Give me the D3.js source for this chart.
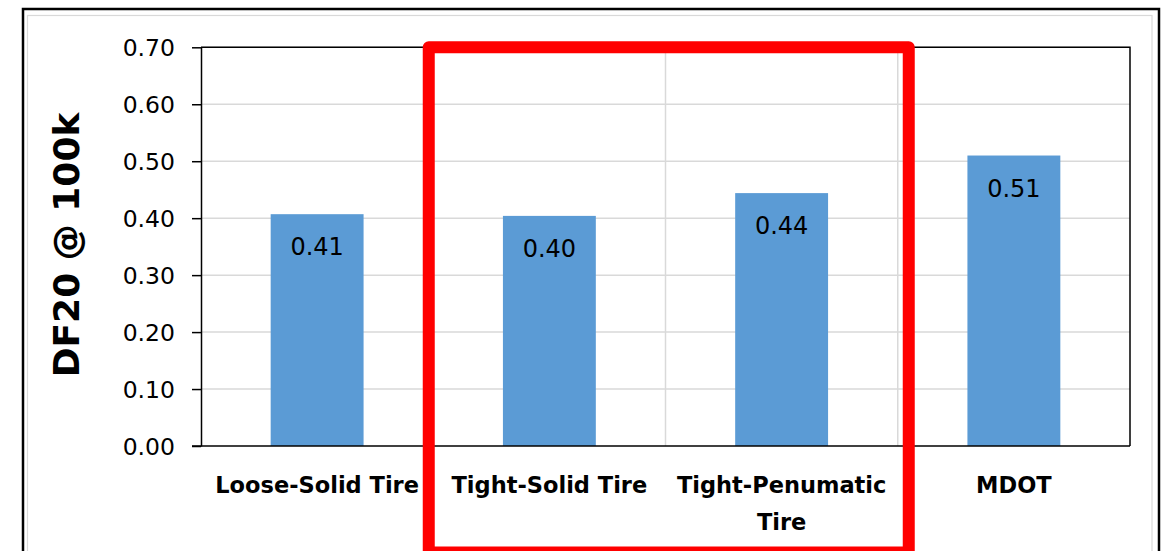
<!DOCTYPE html>
<html>
<head>
<meta charset="utf-8">
<script src="https://cdn.jsdelivr.net/npm/d3@7"></script>
<style>
  html, body { margin: 0; padding: 0; background: #fff; }
  svg { display: block; }
</style>
</head>
<body>
<svg id="chart" width="1166" height="551"></svg>
<script>
// Categories and DF20 values at 100k cycles
const categories = [["Loose-Solid Tire"], ["Tight-Solid Tire"], ["Tight-Penumatic", "Tire"], ["MDOT"]];
const values = [0.407, 0.404, 0.444, 0.510];
const yTicks = [0, 0.1, 0.2, 0.3, 0.4, 0.5, 0.6, 0.7];
const yTitle = "DF20 @ 100k";
// categories enclosed by the highlight frame
const highlighted = [1, 2];

const FONT = "'DejaVu Sans', sans-serif";
const svg = d3.select("#chart");

const plot = { left: 201, right: 1130, top: 47.3, bottom: 446 };

const x = d3.scaleBand()
  .domain(d3.range(categories.length))
  .range([plot.left, plot.right])
  .paddingInner(0.6)
  .paddingOuter(0.3);
const band = d3.scaleBand()
  .domain(d3.range(categories.length))
  .range([plot.left, plot.right]);

const y = d3.scaleLinear().domain([0, 0.7]).range([plot.bottom, plot.top]);

// chart frame
svg.append("rect").attr("x", 23).attr("y", 9).attr("width", 1136).attr("height", 560)
  .attr("fill", "#fff").attr("stroke", "#000").attr("stroke-width", 2.5);
svg.append("rect").attr("x", 27.5).attr("y", 15.5).attr("width", 1124.5).attr("height", 560)
  .attr("fill", "none").attr("stroke", "#d9d9d9").attr("stroke-width", 1.2);

// horizontal gridlines
svg.append("g").selectAll("line").data(yTicks.slice(1)).join("line")
  .attr("x1", plot.left).attr("x2", plot.right)
  .attr("y1", d => y(d)).attr("y2", d => y(d))
  .attr("stroke", "#d9d9d9").attr("stroke-width", 1.5);

// vertical gridlines at category boundaries
svg.append("g").selectAll("line").data(d3.range(1, categories.length)).join("line")
  .attr("x1", d => band(d)).attr("x2", d => band(d))
  .attr("y1", plot.top).attr("y2", plot.bottom)
  .attr("stroke", "#d9d9d9").attr("stroke-width", 1.5);

// bars
svg.append("g").selectAll("rect").data(values).join("rect")
  .attr("x", (d, i) => x(i))
  .attr("width", x.bandwidth())
  .attr("y", d => y(d))
  .attr("height", d => y(0) - y(d))
  .attr("fill", "#5b9bd5");

// value labels inside bars
svg.append("g").selectAll("text").data(values).join("text")
  .attr("x", (d, i) => x(i) + x.bandwidth() / 2)
  .attr("y", d => y(d) + 41)
  .attr("text-anchor", "middle")
  .attr("font-family", FONT).attr("font-size", 24).attr("fill", "#000")
  .text(d => d3.format(".2f")(d));

// plot area border (top and right)
svg.append("path")
  .attr("d", `M${plot.left},${plot.top}H${plot.right}V${plot.bottom}`)
  .attr("fill", "none").attr("stroke", "#000").attr("stroke-width", 1.5);

// y axis
const yAxis = svg.append("g")
  .attr("transform", `translate(${plot.left},0)`)
  .call(d3.axisLeft(y).tickValues(yTicks).tickFormat(d3.format(".2f")).tickSizeInner(9).tickSizeOuter(0).tickPadding(17));
yAxis.select(".domain").attr("stroke", "#000").attr("stroke-width", 1.5);
yAxis.selectAll(".tick line").attr("stroke", "#000").attr("stroke-width", 1.5);
yAxis.selectAll(".tick text").attr("font-family", FONT).attr("font-size", 23.5).attr("fill", "#000").attr("dy", "0.36em");

// x axis line
svg.append("line")
  .attr("x1", plot.left - 9).attr("x2", plot.right)
  .attr("y1", plot.bottom).attr("y2", plot.bottom)
  .attr("stroke", "#000").attr("stroke-width", 1.5);

// category labels
const xl = svg.append("g").selectAll("text").data(categories).join("text")
  .attr("x", (d, i) => band(i) + band.bandwidth() / 2)
  .attr("y", 493)
  .attr("text-anchor", "middle")
  .attr("font-family", FONT).attr("font-weight", "bold").attr("font-size", 22.5).attr("fill", "#000");
xl.selectAll("tspan").data(d => d).join("tspan")
  .attr("x", function () { return this.parentNode.getAttribute("x"); })
  .attr("dy", (d, i) => i === 0 ? 0 : 37)
  .text(d => d);

// y axis title
svg.append("text")
  .attr("transform", `translate(79,245) rotate(-90)`)
  .attr("text-anchor", "middle")
  .attr("font-family", FONT).attr("font-weight", "bold").attr("font-size", 36).attr("fill", "#000")
  .text(yTitle);

// highlight frame around selected categories
const hx0 = band(highlighted[0]) - 4.5;
const hx1 = band(highlighted[highlighted.length - 1]) + band.bandwidth() + 11;
svg.append("path")
  .attr("d", `M${hx0},560V${plot.top}H${hx1}V552.5H${hx0}Z`)
  .attr("fill", "none").attr("stroke", "#ff0000").attr("stroke-width", 12)
  .attr("stroke-linejoin", "round");
</script>
</body>
</html>
